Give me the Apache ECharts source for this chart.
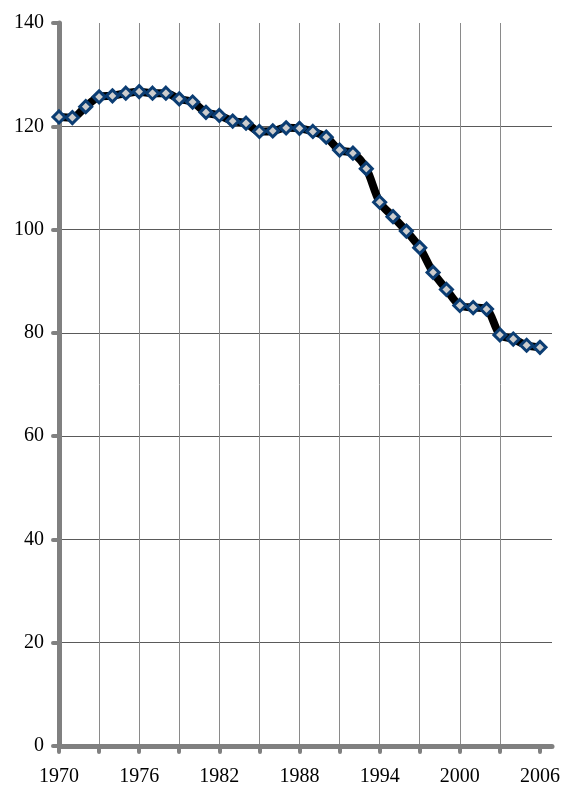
<!DOCTYPE html>
<html>
<head>
<meta charset="utf-8">
<script src="https://cdn.jsdelivr.net/npm/echarts@6/dist/echarts.min.js"></script>
<style>
html,body{margin:0;padding:0;background:#fff;}
#chart{width:563px;height:787px;}
</style>
</head>
<body>
<div id="chart"></div>
<script>
const years = [1970,1971,1972,1973,1974,1975,1976,1977,1978,1979,1980,1981,1982,1983,1984,1985,1986,1987,1988,1989,1990,1991,1992,1993,1994,1995,1996,1997,1998,1999,2000,2001,2002,2003,2004,2005,2006];
const values = [121.8,121.7,123.8,125.7,125.9,126.4,126.7,126.4,126.4,125.3,124.7,122.7,122.1,121.0,120.6,119.0,119.1,119.7,119.6,119.0,117.9,115.4,114.8,111.8,105.3,102.5,99.7,96.5,91.7,88.4,85.3,84.9,84.6,79.6,78.8,77.6,77.2];
const xTickYears = [1970,1973,1976,1979,1982,1985,1988,1991,1994,1997,2000,2003,2006];
const xLabelYears = [1970,1976,1982,1988,1994,2000,2006];

const chart = echarts.init(document.getElementById('chart'), null, {renderer:'canvas'});
const font = '"Liberation Serif", "Times New Roman", serif';
chart.setOption({
  animation: false,
  grid: {left: 59, right: 11, top: 23, bottom: 41, containLabel: false},
  xAxis: {
    type: 'value',
    min: 1970,
    max: 2006.9,
    axisLine: {show: true, onZero: false, lineStyle: {color: '#808080', width: 5, cap: 'round'}},
    axisTick: {show: true, customValues: xTickYears, length: 6, lineStyle: {color: '#808080', width: 4, cap: 'round'}},
    axisLabel: {customValues: xLabelYears, formatter: v => String(v), margin: 21, color: '#000', fontFamily: font, fontSize: 20},
    splitLine: {show: true, showMinLine: false, showMaxLine: false, lineStyle: {color: '#8a8a8a', width: 1}}
  },
  yAxis: {
    type: 'value',
    min: 0,
    max: 140,
    interval: 20,
    axisLine: {show: true, lineStyle: {color: '#808080', width: 5, cap: 'round'}},
    axisTick: {show: true, length: 6, lineStyle: {color: '#808080', width: 4, cap: 'round'}},
    axisLabel: {margin: 15, color: '#000', fontFamily: font, fontSize: 20},
    splitLine: {show: true, showMinLine: false, showMaxLine: false, lineStyle: {color: '#5a5a5a', width: 1}}
  },
  series: [{
    type: 'line',
    data: years.map((y, i) => [y, values[i]]),
    smooth: 0.3,
    symbol: 'diamond',
    symbolSize: 12,
    lineStyle: {color: '#000', width: 8},
    itemStyle: {color: '#cdcdcd', borderColor: '#0b3d73', borderWidth: 3},
    z: 5
  }]
});
</script>
</body>
</html>
